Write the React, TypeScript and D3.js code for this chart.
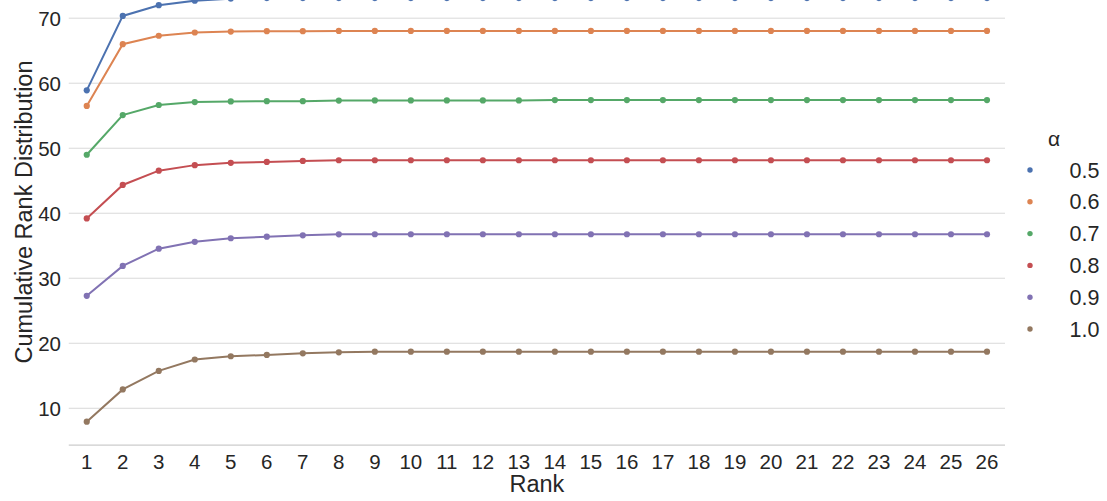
import React, { useEffect, useRef } from "react";
import * as d3 from "d3";

const width = 1107;
const height = 501;

const ranks = [
  "1", "2", "3", "4", "5", "6", "7", "8", "9", "10", "11", "12", "13",
  "14", "15", "16", "17", "18", "19", "20", "21", "22", "23", "24", "25", "26",
];
const alphas = ["0.5", "0.6", "0.7", "0.8", "0.9", "1.0"];
const colors = ["#4c72b0", "#dd8452", "#55a868", "#c44e52", "#8172b3", "#937860"];
const yTicks = [10, 20, 30, 40, 50, 60, 70];

const alpha05 = [
  58.9, 70.35, 72.0, 72.7, 73.0, 73.1, 73.1, 73.1, 73.1, 73.1, 73.1, 73.1, 73.1,
  73.1, 73.1, 73.1, 73.1, 73.1, 73.1, 73.1, 73.1, 73.1, 73.1, 73.1, 73.1, 73.1,
];
const alpha06 = [
  56.5, 66.0, 67.3, 67.8, 67.95, 68.0, 68.0, 68.05, 68.05, 68.05, 68.05, 68.05, 68.05,
  68.05, 68.05, 68.05, 68.05, 68.05, 68.05, 68.05, 68.05, 68.05, 68.05, 68.05, 68.05, 68.05,
];
const alpha07 = [
  49.0, 55.1, 56.65, 57.1, 57.2, 57.23, 57.23, 57.33, 57.35, 57.35, 57.35, 57.35, 57.35,
  57.4, 57.4, 57.4, 57.4, 57.4, 57.4, 57.4, 57.4, 57.4, 57.4, 57.4, 57.4, 57.4,
];
const alpha08 = [
  39.2, 44.35, 46.55, 47.4, 47.75, 47.9, 48.05, 48.15, 48.15, 48.15, 48.15, 48.15, 48.15,
  48.15, 48.15, 48.15, 48.15, 48.15, 48.15, 48.15, 48.15, 48.15, 48.15, 48.15, 48.15, 48.15,
];
const alpha09 = [
  27.3, 31.9, 34.55, 35.6, 36.15, 36.4, 36.6, 36.75, 36.77, 36.77, 36.77, 36.77, 36.77,
  36.77, 36.77, 36.77, 36.77, 36.77, 36.77, 36.77, 36.77, 36.77, 36.77, 36.77, 36.77, 36.77,
];
const alpha10 = [
  7.94, 12.9, 15.75, 17.5, 18.0, 18.2, 18.45, 18.6, 18.7, 18.7, 18.7, 18.7, 18.7,
  18.7, 18.7, 18.7, 18.7, 18.7, 18.7, 18.7, 18.7, 18.7, 18.7, 18.7, 18.7, 18.7,
];

const seriesValues = [alpha05, alpha06, alpha07, alpha08, alpha09, alpha10];

const font = "'Liberation Sans', Arial, sans-serif";
const textColor = "#262626";
const gridColor = "#d9d9d9";

const plot = { left: 68.75, right: 1005, top: 0, bottom: 445 };

const App = () => {
  const ref = useRef<SVGSVGElement | null>(null);

  useEffect(() => {
    const svg = d3.select(ref.current);
    svg.selectAll("*").remove();

    const x = d3
      .scalePoint<string>()
      .domain(ranks)
      .range([plot.left, plot.right])
      .padding(0.5);

    const y = d3
      .scaleLinear()
      .domain([4.35, 72.8])
      .range([plot.bottom, plot.top]);

    // grid
    svg
      .append("g")
      .selectAll("line")
      .data(yTicks)
      .join("line")
      .attr("x1", plot.left)
      .attr("x2", plot.right)
      .attr("y1", (d) => y(d))
      .attr("y2", (d) => y(d))
      .attr("stroke", gridColor)
      .attr("stroke-width", 1);

    // bottom spine
    svg
      .append("line")
      .attr("x1", plot.left)
      .attr("x2", plot.right)
      .attr("y1", plot.bottom)
      .attr("y2", plot.bottom)
      .attr("stroke", "#cccccc")
      .attr("stroke-width", 1.25);

    // y tick labels
    svg
      .append("g")
      .selectAll("text")
      .data(yTicks)
      .join("text")
      .attr("x", 61)
      .attr("y", (d) => y(d) + 7.4)
      .attr("text-anchor", "end")
      .attr("font-family", font)
      .attr("font-size", 20.5)
      .attr("fill", textColor)
      .text((d) => d);

    // x tick labels
    svg
      .append("g")
      .selectAll("text")
      .data(ranks)
      .join("text")
      .attr("x", (d) => x(d)!)
      .attr("y", 468.5)
      .attr("text-anchor", "middle")
      .attr("font-family", font)
      .attr("font-size", 20.5)
      .attr("fill", textColor)
      .text((d) => d);

    // axis titles
    svg
      .append("text")
      .attr("x", (plot.left + plot.right) / 2)
      .attr("y", 492)
      .attr("text-anchor", "middle")
      .attr("font-family", font)
      .attr("font-size", 23.5)
      .attr("fill", textColor)
      .text("Rank");

    svg
      .append("text")
      .attr("transform", "translate(31.5,212) rotate(-90)")
      .attr("text-anchor", "middle")
      .attr("font-family", font)
      .attr("font-size", 23.5)
      .attr("fill", textColor)
      .text("Cumulative Rank Distribution");

    // lines + points
    const line = d3
      .line<number>()
      .x((d, i) => x(ranks[i])!)
      .y((d) => y(d));

    const groups = svg
      .append("g")
      .selectAll("g")
      .data(seriesValues)
      .join("g")
      .attr("fill", (d, i) => colors[i])
      .attr("stroke", (d, i) => colors[i]);

    groups
      .append("path")
      .attr("d", (d) => line(d))
      .attr("fill", "none")
      .attr("stroke-width", 2);

    groups
      .selectAll("circle")
      .data((d) => d)
      .join("circle")
      .attr("cx", (d, i) => x(ranks[i])!)
      .attr("cy", (d) => y(d))
      .attr("r", 3.1)
      .attr("stroke", "none");

    // legend
    const legend = svg.append("g");
    legend
      .append("text")
      .attr("x", 1054)
      .attr("y", 146)
      .attr("text-anchor", "middle")
      .attr("font-family", font)
      .attr("font-size", 21)
      .attr("fill", textColor)
      .text("α");

    const items = legend
      .selectAll("g")
      .data(alphas)
      .join("g")
      .attr("transform", (d, i) => `translate(0, ${170 + i * 31.8})`);

    items
      .append("circle")
      .attr("cx", 1030)
      .attr("cy", 0)
      .attr("r", 2.7)
      .attr("fill", (d, i) => colors[i]);

    items
      .append("text")
      .attr("x", 1069.5)
      .attr("y", 7.5)
      .attr("font-family", font)
      .attr("font-size", 21.5)
      .attr("fill", textColor)
      .text((d) => d);
  }, []);

  return (
    <svg
      ref={ref}
      width={width}
      height={height}
      style={{ position: "absolute", left: 0, top: 0, background: "#fff" }}
    />
  );
};

export default App;
